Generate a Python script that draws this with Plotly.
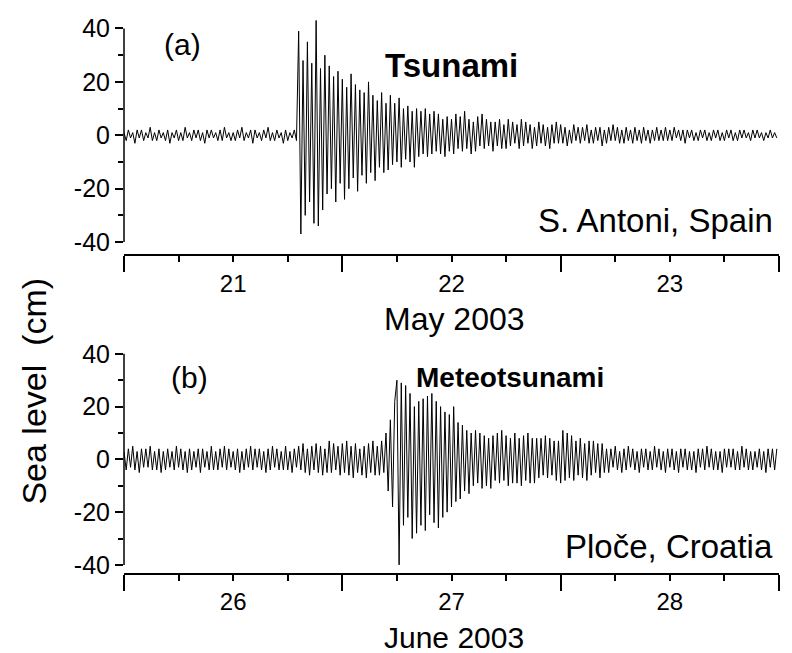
import plotly.graph_objects as go

# Panel (a): S. Antoni, Spain, May 2003, sampled every 0.01 day from 20.50
start_a = 20.5
vals_a = [1,-2,2,-1,1,-3,2,-1,2,-2, 1,-1,3,-2,1,-2,2,-1,1,-2, 2,-3,1,-1,2,-2,1,-2,3,-1,
          1,-2,2,-1,2,-2,1,-3,2,-1, 2,-1,1,-2,2,-2,3,-1,1,-2, 1,-2,2,-1,3,-2,1,-1,2,-3,
          2,-1,1,-2,2,-1,3,-2,1,-2, 2,-1,1,-3,2,-2,1,-1,2,-2,
          39,-37,28,-30,35,-25,27,-33,43,-34, 25,-28,30,-22,26,-20,22,-25,24,-18,
          21,-24,18,-20,23,-16,19,-21,17,-15, 16,-18,20,-14,15,-17,13,-12,16,-14,
          12,-13,15,-11,12,-10,14,-12,10,-9, 11,-10,9,-12,10,-8,9,-7,10,-8,
          8,-7,9,-6,8,-7,6,-8,7,-6, 6,-7,8,-5,7,-6,9,-5,6,-7, 5,-6,7,-4,8,-5,6,-4,5,-6,
          5,-4,6,-5,4,-5,6,-4,5,-3, 4,-5,6,-4,5,-3,4,-5,3,-4, 5,-3,4,-4,3,-5,4,-3,5,-3,
          4,-3,3,-4,2,-3,4,-2,3,-3, 3,-2,4,-3,2,-3,3,-2,3,-4, 2,-3,3,-2,4,-2,3,-3,2,-3,
          3,-2,2,-3,3,-2,2,-3,3,-2, 2,-3,2,-2,3,-2,2,-2,3,-2, 2,-2,3,-1,2,-2,2,-3,2,-1,
          2,-2,1,-2,2,-1,2,-2,1,-2, 2,-1,2,-2,1,-2,2,-1,2,-2, 1,-2,2,-1,2,-1,1,-2,2,-1,
          2,-1,1,-2,1,-1,2,-1,1,-1]
# Panel (b): Ploce, Croatia, June 2003, sampled every 0.01 day from 25.50
start_b = 25.5
vals_b = [3,-4,4,-3,5,-4,3,-5,4,-3, 4,-3,5,-4,3,-4,4,-5,3,-4, 4,-3,3,-4,5,-3,4,-4,3,-5,
          4,-4,3,-3,4,-5,4,-3,3,-4, 5,-4,3,-4,4,-3,5,-4,4,-3, 3,-4,4,-5,3,-4,4,-3,5,-4,
          4,-3,4,-4,3,-5,4,-4,5,-3, 4,-4,3,-4,5,-4,3,-5,4,-3,
          5,-4,6,-5,4,-6,5,-4,6,-5, 5,-6,4,-5,7,-5,6,-4,5,-6, 6,-5,7,-6,5,-7,6,-5,4,-6,
          5,-7,6,-5,7,-6,5,-6,7,-5,
          10,-12,15,-18,22, 30,-40,29,-25,28,
          -22,25,-30,20,-28,22,-25,23,-27,24, -21,25,-24,22,-26,20,-22,18,-20,17,
          -18,20,-16,14,-15,13,-12,11,-13,10,
          -10,11,-9,10,-11,9,-10,8,-11,9, -8,10,-9,11,-8,9,-10,8,-9,10, -9,8,-10,9,-8,10,-9,8,-9,8,
          -7,8,-6,9,-7,8,-6,7,-8,7, -9,11,-8,10,-7,9,-8,7,-6,8, -7,6,-8,7,-6,7,-5,6,-7,6,
          -5,4,-5,4,-3,5,-4,3,-5,4, -4,5,-3,4,-4,3,-5,4,-3,4, -4,3,-4,5,-3,4,-4,3,-5,4,
          -3,4,-4,3,-5,4,-3,4,-4,3, -4,3,-5,4,-3,4,-4,5,-3,4, -4,3,-4,3,-5,4,-3,4,-3,4,
          -4,3,-4,5,-3,4,-4,3,-4,3, -3,4,-4,3,-5,4,-3,4,-4,4]

times_a = [round(start_a + 0.01 * i, 2) for i in range(len(vals_a))]
times_b = [round(start_b + 0.01 * i, 2) for i in range(len(vals_b))]
qticks_a = [20.5 + 0.25 * i for i in range(13)]
qticks_b = [25.5 + 0.25 * i for i in range(13)]
dayticks_a = [20.5, 21.5, 22.5, 23.5]
dayticks_b = [25.5, 26.5, 27.5, 28.5]
ytick_vals = [40, 20, 0, -20, -40]
ytick_text = ["40", "20", "0", "-20", "-40"]

FONT = "Liberation Sans, Arial, sans-serif"
fig = go.Figure()
fig.add_trace(go.Scatter(x=times_a, y=vals_a, mode="lines", line=dict(color="black", width=1),
                         xaxis="x", yaxis="y", showlegend=False))
fig.add_trace(go.Scatter(x=times_b, y=vals_b, mode="lines", line=dict(color="black", width=1),
                         xaxis="x2", yaxis="y2", showlegend=False))

XD = [116/792, 771/792]
def xax(ticks, days, labels, pos):
    return dict(domain=XD, range=[ticks[0], ticks[-1]], anchor="free", position=pos,
                tickvals=ticks, ticktext=[labels.get(t, "") for t in ticks],
                ticks="outside", ticklen=6, tickcolor="black", tickwidth=1.5,
                showline=True, linecolor="black",
                linewidth=1.5, showgrid=False, zeroline=False, ticklabelstandoff=1,
                minor=dict(tickvals=days, ticks="outside", ticklen=16, tickcolor="black", tickwidth=1.5),
                tickfont=dict(family=FONT, size=24, color="black"))
def yax(dom, anchor):
    return dict(domain=dom, range=[-40, 46], anchor=anchor, tickvals=ytick_vals, ticktext=ytick_text,
                ticks="outside", ticklen=8, tickcolor="black", tickwidth=1.5,
                showline=False, showgrid=False,
                zeroline=False, tickfont=dict(family=FONT, size=25, color="black"),
                minor=dict(tickvals=[30, 10, -10, -30], ticks="outside", ticklen=5, tickcolor="black"))

fig.update_layout(
    width=792, height=653, margin=dict(l=0, r=0, t=0, b=0),
    plot_bgcolor="white", paper_bgcolor="white",
    xaxis=xax(qticks_a, dayticks_a, {21.0: "21", 22.0: "22", 23.0: "23"}, 0.6134),
    xaxis2=xax(qticks_b, dayticks_b, {26.0: "26", 27.0: "27", 28.0: "28"}, 0.1145),
    yaxis=yax([0.6337, 0.993], "x"),
    yaxis2=yax([0.1285, 0.4835], "x2"),
)
for yr in ["y", "y2"]:
    fig.add_shape(type="line", xref="paper", yref=yr, x0=XD[0], x1=XD[0], y0=-40, y1=40,
                  line=dict(color="black", width=1.5))

def ann(text, x, y, xref, yref, size=20, bold=False, xanchor="center", angle=0, yanchor="middle"):
    fig.add_annotation(text=f"<b>{text}</b>" if bold else text, x=x, y=y, xref=xref, yref=yref,
                       showarrow=False, xanchor=xanchor, yanchor=yanchor, textangle=angle,
                       font=dict(family=FONT, size=size, color="black"))

ann("(a)", 20.77, 34, "x", "y", size=30)
ann("Tsunami", 22.0, 26, "x", "y", size=33, bold=True)
ann("S. Antoni, Spain", 23.48, -32, "x", "y", size=33, xanchor="right")
ann("(b)", 25.8, 31, "x2", "y2", size=30)
ann("Meteotsunami", 27.27, 31, "x2", "y2", size=28, bold=True)
ann("Ploče, Croatia", 28.48, -33, "x2", "y2", size=33, xanchor="right")
ann("May 2003", 446/792, 1-318/653, "paper", "paper", size=32)
ann("June 2003", 446/792, -0.014, "paper", "paper", size=30, yanchor="bottom")
ann("Sea level  (cm)", 26/792, 1-392/653, "paper", "paper", size=34, angle=-90)

fig.write_html("out.html")
